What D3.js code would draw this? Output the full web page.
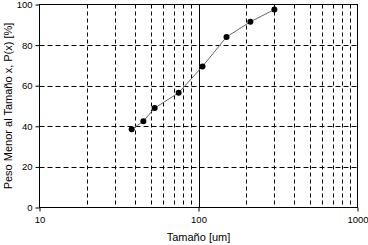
<!DOCTYPE html>
<html>
<head>
<meta charset="utf-8">
<script src="https://cdn.jsdelivr.net/npm/d3@7"></script>
<style>
  body { margin: 0; background: #fff; }
  svg { display: block; font-family: "Liberation Sans", Arial, sans-serif; }
</style>
</head>
<body>
<svg id="chart" width="368" height="245"></svg>
<script>
// sieve sizes (um) and cumulative passing (%)
const sizes = [38, 45, 53, 75, 106, 150, 212, 300]
const passing = [38.5, 42.5, 49, 56.5, 69.5, 84, 91.5, 97.5]
const xTicks = [10, 100, 1000]
const yTicks = [0, 20, 40, 60, 80, 100]

const W = 368, H = 245
const m = { left: 39.5, right: 10.5, top: 4.5, bottom: 37.5 }

const svg = d3.select('#chart')
const x = d3.scaleLog().domain([10, 1000]).range([m.left, W - m.right])
const y = d3.scaleLinear().domain([0, 100]).range([H - m.bottom, m.top])

// minor vertical grid
const minor = []
for (let d = 10; d < 1000; d *= 10) for (let k = 2; k <= 9; k++) minor.push(d * k)

const grid = svg.append('g')
grid.selectAll('.vg').data(minor).join('line')
  .attr('x1', d => Math.round(x(d)) + 0.5).attr('x2', d => Math.round(x(d)) + 0.5)
  .attr('y1', y(100)).attr('y2', y(0))
  .attr('stroke', '#000').attr('stroke-dasharray', '4,3')
grid.selectAll('.hg').data([20, 40, 60, 80]).join('line')
  .attr('x1', x(10)).attr('x2', x(1000))
  .attr('y1', d => Math.round(y(d)) + 0.5).attr('y2', d => Math.round(y(d)) + 0.5)
  .attr('stroke', '#000').attr('stroke-dasharray', '5,3')
// solid decade line
grid.append('line')
  .attr('x1', Math.round(x(100)) + 0.5).attr('x2', Math.round(x(100)) + 0.5)
  .attr('y1', y(100)).attr('y2', y(0))
  .attr('stroke', '#000')

// frame
svg.append('rect')
  .attr('x', x(10)).attr('y', y(100))
  .attr('width', x(1000) - x(10)).attr('height', y(0) - y(100))
  .attr('fill', 'none').attr('stroke', '#000')

const xAxis = svg.append('g')
  .attr('transform', `translate(0,${y(0)})`)
  .call(d3.axisBottom(x).tickValues(xTicks).tickFormat(d3.format('d')).tickSize(4).tickPadding(5))
const yAxis = svg.append('g')
  .attr('transform', `translate(${x(10)},0)`)
  .call(d3.axisLeft(y).tickValues(yTicks).tickSize(4).tickPadding(3))
;[xAxis, yAxis].forEach(a => {
  a.select('.domain').remove()
  a.selectAll('text').attr('font-size', 9.5).attr('fill', '#000').attr('font-family', 'Liberation Sans, Arial, sans-serif')
  a.selectAll('line').attr('stroke', '#000')
})

const pts = sizes.map((s, i) => [s, passing[i]])
svg.append('path')
  .datum(pts)
  .attr('d', d3.line().x(d => x(d[0])).y(d => y(d[1])))
  .attr('fill', 'none').attr('stroke', '#666').attr('stroke-width', 1)
svg.selectAll('.pt').data(pts).join('circle')
  .attr('cx', d => x(d[0])).attr('cy', d => y(d[1])).attr('r', 3)
  .attr('fill', '#000')

svg.append('text')
  .attr('x', (x(10) + x(1000)) / 2).attr('y', 241)
  .attr('text-anchor', 'middle').attr('font-size', 11)
  .text('Tamaño [um]')
svg.append('text')
  .attr('transform', `translate(12,${(y(0) + y(100)) / 2}) rotate(-90)`)
  .attr('text-anchor', 'middle').attr('font-size', 11)
  .text('Peso Menor al Tamaño x, P(x) [%]')
</script>
</body>
</html>
